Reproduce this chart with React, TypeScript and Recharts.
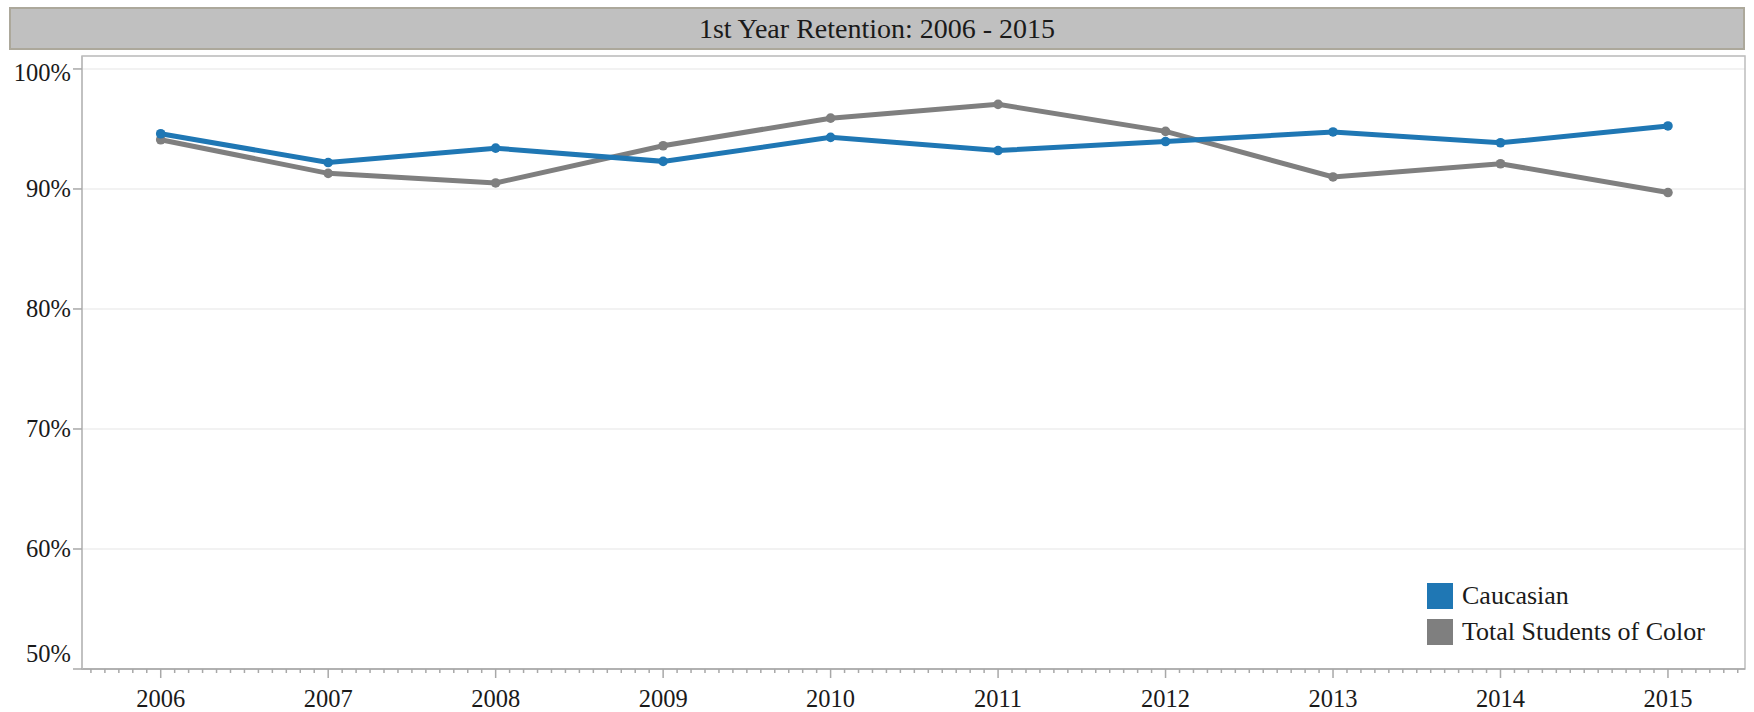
import React from 'react';
import { LineChart, Line, XAxis, YAxis, CartesianGrid, Legend, ReferenceArea } from 'recharts';

const title = '1st Year Retention: 2006 - 2015';
const years = [2006, 2007, 2008, 2009, 2010, 2011, 2012, 2013, 2014, 2015];
const caucasian = [94.6, 92.2, 93.4, 92.3, 94.3, 93.2, 93.95, 94.75, 93.85, 95.25];
const studentsOfColor = [94.1, 91.3, 90.5, 93.6, 95.9, 97.05, 94.8, 91.0, 92.1, 89.7];
const yTicks = [50, 60, 70, 80, 90, 100];
const series = [
  { key: 'caucasian', name: 'Caucasian', color: '#1f77b4' },
  { key: 'studentsOfColor', name: 'Total Students of Color', color: '#7f7f7f' },
];

const data = years.map((year, i) => ({
  year,
  caucasian: caucasian[i],
  studentsOfColor: studentsOfColor[i],
}));

// monthly minor ticks around each year
const xTicks: number[] = [];
for (let i = -5; i <= (years.length - 1) * 12 + 5; i++) {
  xTicks.push(years[0] + i / 12);
}

const xDomain = [2005.53, 2015.46];
const yDomain = [50, 101.08];
const font = '"Liberation Serif", "DejaVu Serif", serif';
const axisColor = '#a8a8a8';

const XTick = (props: any) => {
  const { x, y, payload } = props;
  const v = payload.value as number;
  const major = Math.abs(v - Math.round(v)) < 1e-6;
  return (
    <g>
      <line x1={x} x2={x} y1={y} y2={y + (major ? 9 : 4)} stroke={axisColor} strokeWidth={1.5} />
      {major && (
        <text x={x} y={y + 38} textAnchor="middle" fontSize={24.5} fontFamily={font} fill="#1a1a1a">
          {Math.round(v)}
        </text>
      )}
    </g>
  );
};

const YTick = (props: any) => {
  const { x, y, payload } = props;
  const v = payload.value as number;
  const dy = v === 50 ? -7 : v === 100 ? 12 : 8;
  return (
    <text x={x} y={y + dy} textAnchor="end" fontSize={24.5} fontFamily={font} fill="#1a1a1a">
      {v}%
    </text>
  );
};

const LegendBox = () => (
  <div style={{ fontFamily: font, fontSize: 26, color: '#1a1a1a' }}>
    {series.map((s) => (
      <div key={s.key} style={{ display: 'flex', alignItems: 'center', height: 26, marginBottom: 10 }}>
        <div style={{ width: 26, height: 26, background: s.color, marginRight: 9 }} />
        <span style={{ whiteSpace: 'nowrap' }}>{s.name}</span>
      </div>
    ))}
  </div>
);

export default function App() {
  return (
    <div style={{ position: 'absolute', left: 0, top: 0, width: 1754, height: 712, background: '#fff' }}>
      <div
        style={{
          position: 'absolute',
          left: 9,
          top: 7,
          width: 1732,
          height: 39,
          background: '#c0c0c0',
          border: '2px solid #aca89b',
          display: 'flex',
          alignItems: 'center',
          justifyContent: 'center',
          fontFamily: font,
          fontSize: 28,
          color: '#1a1a1a',
        }}
      >
        {title}
      </div>
      <div style={{ position: 'absolute', left: 0, top: 0 }}>
        <LineChart width={1754} height={712} data={data} margin={{ top: 56, right: 9, bottom: 0, left: 0 }}>
          <CartesianGrid vertical={false} stroke="#eeeeee" strokeWidth={1.5} />
          <ReferenceArea
            x1={xDomain[0]}
            x2={xDomain[1]}
            y1={yDomain[0]}
            y2={yDomain[1]}
            fill="none"
            stroke="#bdbdbd"
            strokeWidth={1.5}
            fillOpacity={0}
          />
          <XAxis
            dataKey="year"
            type="number"
            domain={xDomain}
            ticks={xTicks}
            interval={0}
            height={43}
            tickSize={0}
            tickMargin={0}
            tickLine={false}
            axisLine={{ stroke: axisColor, strokeWidth: 1.5 }}
            tick={<XTick />}
          />
          <YAxis
            type="number"
            domain={yDomain}
            ticks={yTicks}
            interval={0}
            width={82}
            tickSize={9}
            tickMargin={2}
            tickLine={{ stroke: axisColor, strokeWidth: 1.5 }}
            axisLine={{ stroke: '#bdbdbd', strokeWidth: 1.5 }}
            tick={<YTick />}
          />
          <Line
            dataKey="studentsOfColor"
            name="Total Students of Color"
            stroke="#7f7f7f"
            strokeWidth={5}
            dot={{ r: 4.8, fill: '#7f7f7f', stroke: 'none' }}
            activeDot={false}
            isAnimationActive={false}
          />
          <Line
            dataKey="caucasian"
            name="Caucasian"
            stroke="#1f77b4"
            strokeWidth={5}
            dot={{ r: 4.8, fill: '#1f77b4', stroke: 'none' }}
            activeDot={false}
            isAnimationActive={false}
          />
          <Legend
            layout="vertical"
            align="center"
            verticalAlign="middle"
            content={<LegendBox />}
            wrapperStyle={{ position: 'absolute', left: 1427, top: 583, width: 'auto', height: 'auto' }}
          />
        </LineChart>
      </div>
    </div>
  );
}
